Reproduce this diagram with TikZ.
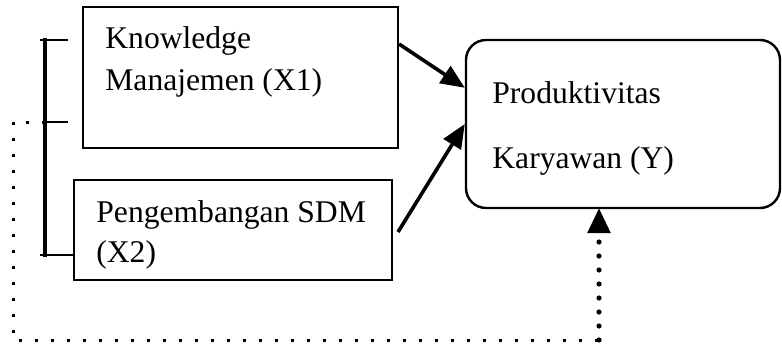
\documentclass[tikz,border=0pt]{standalone}
\usepackage{fontspec}
\setmainfont{Liberation Serif}
\usetikzlibrary{arrows.meta,calc}

\tikzset{
  varbox/.style={draw, line width=1pt, rectangle, inner sep=0pt},
  ybox/.style={draw, line width=1.2pt, rectangle, rounded corners=10pt, inner sep=0pt},
  lbl/.style={anchor=base west, inner sep=0pt, font=\fontsize{15.8}{19}\selectfont},
  link/.style={line width=1.8pt, -{Triangle[length=12pt,width=10pt]}},
  brace/.style={line width=1.8pt},
  tick/.style={line width=1.3pt},
  sqdots/.style={line width=1.5pt, dash pattern=on 1.5pt off 6.5pt},
  rddots/.style={line width=2.6pt, line cap=round, dash pattern=on 0pt off 7pt,
    -{Triangle[length=12.5pt,width=11pt,line cap=butt]}}
}

\begin{document}
\begin{tikzpicture}[x=0.5pt, y=-0.5pt]
  \useasboundingbox (0,0) rectangle (782,343);

  % variable boxes
  \node[varbox, minimum width=157.5pt, minimum height=70.5pt] (k) at (240.5,77.5) {};
  \node[varbox, minimum width=159pt, minimum height=50pt] (p) at (233,230) {};
  \node[ybox, minimum width=157pt, minimum height=84pt] (y) at (623,124) {};

  % labels
  \node[lbl] (k1) at (105,48) {Knowledge};
  \node[lbl] (k2) at (105,90) {Manajemen (X1)};
  \node[lbl] (p1) at (96,222) {Pengembangan SDM};
  \node[lbl] (p2) at (96,262) {(X2)};
  \node[lbl] (y1) at (492,103) {Produktivitas};
  \node[lbl] (y2) at (492,168) {Karyawan (Y)};

  % partial effects
  \coordinate (ka) at ($(k.north east)+(0,38)$);
  \coordinate (ya) at ($(y.north west)+(0,49)$);
  \draw[link] (ka) -- (ya);
  \coordinate (pa) at ($(p.east)+(5,2)$);
  \draw[link] (pa) -- (y.west);

  % bracket joining X1 and X2
  \coordinate (bt) at (45,40);
  \coordinate (bm) at (45,122);
  \coordinate (bb) at (45,255);
  \draw[brace] ($(bt)+(0,-2)$) -- ($(bb)+(0,2)$);
  \draw[tick] ($(bt)+(-5,0)$) -- (68,40);
  \draw[tick] (bm) -- (68,122);
  \draw[tick] ($(bb)+(-5,0)$) -- (bb -| p.west);

  % simultaneous effect
  \coordinate (c1) at (13,122);
  \coordinate (c2) at (13,340);
  \coordinate (c3) at (599,340);
  \coordinate (yb) at (599,208);
  \draw[sqdots] (bm) -- (c1) -- (c2) -- (c3);
  \draw[rddots] (c3) -- (yb);
\end{tikzpicture}
\end{document}
